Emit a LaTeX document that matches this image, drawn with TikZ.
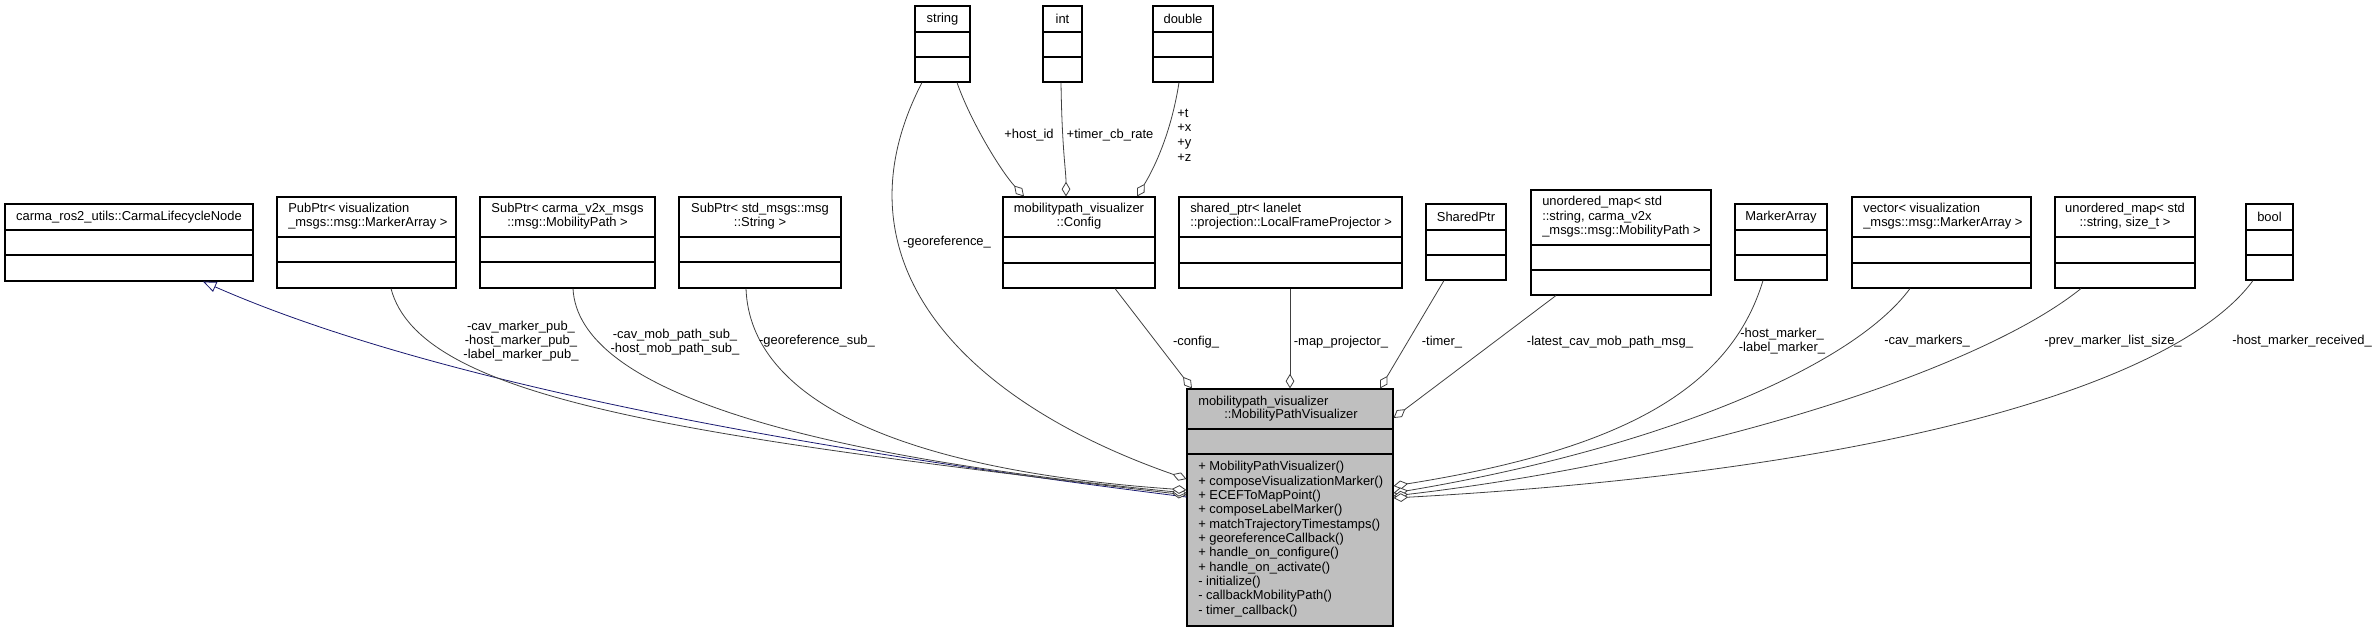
\documentclass[tikz,border=0pt]{standalone}
\usepackage{fontspec}
\setmainfont{Liberation Sans}
\usetikzlibrary{fit,arrows.meta}
\definecolor{edgegray}{HTML}{404040}
\definecolor{mainfill}{HTML}{BFBFBF}
\definecolor{inhblue}{HTML}{191970}
\tikzset{
  cls/.style={draw=black, line width=0.8pt, inner sep=0pt, fill=white},
  mainbox/.style={cls, fill=mainfill},
  hdr/.style={inner sep=0pt, font=\fontsize{9.7}{10.8}\selectfont},
  mtxt/.style={inner sep=0pt, font=\fontsize{9.7}{10.75}\selectfont},
  lbl/.style={inner sep=0pt, align=center, font=\fontsize{9.7}{10.5}\selectfont},
  use/.style={draw=edgegray, line width=0.6pt, -{Diamond[fill=white, length=11pt, width=6.5pt]}},
  inherit/.style={draw=inhblue, line width=0.6pt, {Triangle[fill=white, length=10pt, width=8pt]}-},
}
\newcommand{\ClassBox}[8]{%
  \node[#2, fit={(#3,#4) (#5,#6)}] (#1) {};
  \draw[line width=0.8pt] (#1.west |- 0,#7) -- (#1.east |- 0,#7);
  \draw[line width=0.8pt] (#1.west |- 0,#8) -- (#1.east |- 0,#8);
}
\begin{document}
\begin{tikzpicture}[x=0.75pt, y=-0.75pt]
\useasboundingbox (0,0) rectangle (2377,632);

% boxes
\ClassBox{base}{cls}{5}{204}{253}{281}{230}{255}
\ClassBox{pub}{cls}{277}{197}{456}{288}{237}{262}
\ClassBox{subc}{cls}{480}{197}{655}{288}{237}{262}
\ClassBox{subs}{cls}{679}{197}{841}{288}{237}{262}
\ClassBox{str}{cls}{915}{6}{970}{82}{32}{57}
\ClassBox{nint}{cls}{1043}{6}{1082}{82}{32}{57}
\ClassBox{dbl}{cls}{1153}{6}{1213}{82}{32}{57}
\ClassBox{cfg}{cls}{1003}{197}{1155}{288}{237}{263}
\ClassBox{proj}{cls}{1179}{197}{1402}{288}{237}{263}
\ClassBox{shp}{cls}{1426}{204}{1506}{280}{230}{255}
\ClassBox{umap}{cls}{1531}{190}{1711}{295}{245}{270}
\ClassBox{marr}{cls}{1735}{204}{1827}{280}{230}{255}
\ClassBox{vec}{cls}{1852}{197}{2031}{288}{237}{263}
\ClassBox{umaps}{cls}{2055}{197}{2195}{288}{237}{263}
\ClassBox{nbool}{cls}{2246}{204}{2293}{280}{230}{255}
\ClassBox{main}{mainbox}{1187}{389}{1393}{626}{429}{454}

% header texts
\node[hdr] (tbase) at (129,217) {carma\_ros2\_utils::CarmaLifecycleNode};
\node[hdr, anchor=west, align=left] (tpub) at (288,216) {PubPtr< visualization\\\_msgs::msg::MarkerArray >};
\node[hdr, align=center] (tsubc) at (567.5,216) {SubPtr< carma\_v2x\_msgs\\::msg::MobilityPath >};
\node[hdr, align=center] (tsubs) at (760,216) {SubPtr< std\_msgs::msg\\::String >};
\node[hdr] (tstr) at (942.5,19) {string};
\node[hdr] (tint) at (1062.5,19) {int};
\node[hdr] (tdbl) at (1183,19) {double};
\node[hdr, align=center] (tcfg) at (1079,216) {mobilitypath\_visualizer\\::Config};
\node[hdr, anchor=west, align=left] (tproj) at (1190,216) {shared\_ptr< lanelet\\::projection::LocalFrameProjector >};
\node[hdr] (tshp) at (1466,217) {SharedPtr};
\node[hdr, anchor=west, align=left] (tumap) at (1542,217) {unordered\_map< std\\::string, carma\_v2x\\\_msgs::msg::MobilityPath >};
\node[hdr] (tmarr) at (1781,217) {MarkerArray};
\node[hdr, anchor=west, align=left] (tvec) at (1863,216) {vector< visualization\\\_msgs::msg::MarkerArray >};
\node[hdr, align=center] (tumaps) at (2125,216) {unordered\_map< std\\::string, size\_t >};
\node[hdr] (tbool) at (2269.5,217) {bool};
\node[mtxt, anchor=west] (tmain1) at (1198,402) {mobilitypath\_visualizer};
\node[mtxt, anchor=west] (tmain2) at (1224,415) {::MobilityPathVisualizer};
\node[mtxt, anchor=west, align=left] (tmeth) at (1198,539) {+ MobilityPathVisualizer()\\
+ composeVisualizationMarker()\\
+ ECEFToMapPoint()\\
+ composeLabelMarker()\\
+ matchTrajectoryTimestamps()\\
+ georeferenceCallback()\\
+ handle\_on\_configure()\\
+ handle\_on\_activate()\\
- initialize()\\
- callbackMobilityPath()\\
- timer\_callback()};

% connectors
\draw[inherit] (base.south -| 203,0) .. controls (450,390) and (850,455) .. (main.west |- 0,497);
\draw[use] (pub.south -| 391,0) .. controls (420,400) and (687,436) .. (main.west |- 0,495);
\draw[use] (subc.south -| 573,0) .. controls (578,390) and (800,455) .. (main.west |- 0,493);
\draw[use] (subs.south -| 746,0) .. controls (750,400) and (900,470) .. (main.west |- 0,490);
\draw[use] (str.south -| 922,0) .. controls (830,260) and (960,400) .. (main.west |- 0,479);
\draw[use] (str.south -| 957,0) .. controls (970,120) and (1000,170) .. (cfg.north -| 1024,0);
\draw[use] (nint.south -| 1061,0) .. controls (1062,150) and (1066,170) .. (cfg.north -| 1066,0);
\draw[use] (dbl.south -| 1179,0) .. controls (1170,140) and (1150,175) .. (cfg.north -| 1137,0);
\draw[use] (cfg.south -| 1115,0) -- (main.north -| 1192,0);
\draw[use] (proj.south -| 1290,0) -- (main.north -| 1290,0);
\draw[use] (shp.south -| 1444,0) -- (main.north -| 1380,0);
\draw[use] (umap.south -| 1556,0) -- (main.east |- 0,418);
\draw[use] (marr.south -| 1763,0) .. controls (1730,390) and (1620,450) .. (main.east |- 0,486);
\draw[use] (vec.south -| 1910,0) .. controls (1850,370) and (1650,450) .. (main.east |- 0,493);
\draw[use] (umaps.south -| 2081,0) .. controls (1980,370) and (1700,460) .. (main.east |- 0,496);
\draw[use] (nbool.south -| 2253,0) .. controls (2180,380) and (1900,470) .. (main.east |- 0,498);

% edge labels
\node[lbl] (lpub) at (521,341) {-cav\_marker\_pub\_\\-host\_marker\_pub\_\\-label\_marker\_pub\_};
\node[lbl] (lsubc) at (675,342) {-cav\_mob\_path\_sub\_\\-host\_mob\_path\_sub\_};
\node[lbl] (lsubs) at (817,341) {-georeference\_sub\_};
\node[lbl] (lgeo) at (947,242) {-georeference\_};
\node[lbl] (lhost) at (1029,135) {+host\_id};
\node[lbl] (ltimer) at (1110,135) {+timer\_cb\_rate};
\node[lbl, anchor=west, align=left, font=\fontsize{9.7}{11}\selectfont] (ltxyz) at (1177,135) {+t\\+x\\+y\\+z};
\node[lbl] (lcfg) at (1196,342) {-config\_};
\node[lbl] (lproj) at (1341,342) {-map\_projector\_};
\node[lbl] (ltmr) at (1442,342) {-timer\_};
\node[lbl] (lumap) at (1610,342) {-latest\_cav\_mob\_path\_msg\_};
\node[lbl] (lmarr) at (1782,341) {-host\_marker\_\\-label\_marker\_};
\node[lbl] (lvec) at (1927,341) {-cav\_markers\_};
\node[lbl] (lumaps) at (2113,341) {-prev\_marker\_list\_size\_};
\node[lbl] (lbool) at (2302,341) {-host\_marker\_received\_};
\end{tikzpicture}
\end{document}
